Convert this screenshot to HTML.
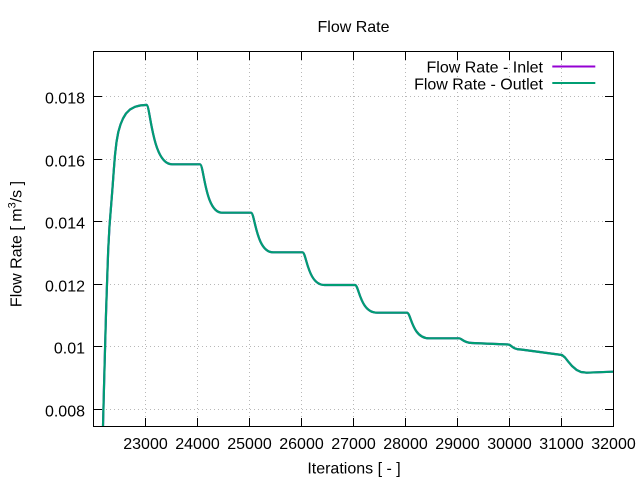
<!DOCTYPE html>
<html>
<head>
<meta charset="utf-8">
<style>
  html, body { margin: 0; padding: 0; background: #ffffff; }
  svg { display: block; }
  text { font-family: "Liberation Sans", Arial, sans-serif; fill: #000; }
</style>
</head>
<body>
<svg width="640" height="480" viewBox="0 0 640 480" xmlns="http://www.w3.org/2000/svg">
  <rect x="0" y="0" width="640" height="480" fill="#ffffff"/>
  <defs>
    <clipPath id="plot">
      <rect x="94" y="52" width="519" height="374"/>
    </clipPath>
  </defs>

  <!-- grid -->
  <g stroke="#b8b8b8" stroke-width="1" stroke-dasharray="1,3" fill="none">
    <line x1="145.5" y1="52" x2="145.5" y2="426"/>
    <line x1="197.5" y1="52" x2="197.5" y2="426"/>
    <line x1="249.5" y1="52" x2="249.5" y2="426"/>
    <line x1="301.5" y1="52" x2="301.5" y2="426"/>
    <line x1="353.5" y1="52" x2="353.5" y2="426"/>
    <line x1="405.5" y1="52" x2="405.5" y2="426"/>
    <line x1="457.5" y1="52" x2="457.5" y2="426"/>
    <line x1="509.5" y1="52" x2="509.5" y2="426"/>
    <line x1="561.5" y1="52" x2="561.5" y2="426"/>
    <line x1="94" y1="96.5" x2="613" y2="96.5"/>
    <line x1="94" y1="159.5" x2="613" y2="159.5"/>
    <line x1="94" y1="221.5" x2="613" y2="221.5"/>
    <line x1="94" y1="284.5" x2="613" y2="284.5"/>
    <line x1="94" y1="346.5" x2="613" y2="346.5"/>
    <line x1="94" y1="409.5" x2="613" y2="409.5"/>
  </g>

  <!-- ticks -->
  <g stroke="#000" stroke-width="1">
    <line x1="145.5" y1="426" x2="145.5" y2="418"/><line x1="145.5" y1="52" x2="145.5" y2="60"/>
    <line x1="197.5" y1="426" x2="197.5" y2="418"/><line x1="197.5" y1="52" x2="197.5" y2="60"/>
    <line x1="249.5" y1="426" x2="249.5" y2="418"/><line x1="249.5" y1="52" x2="249.5" y2="60"/>
    <line x1="301.5" y1="426" x2="301.5" y2="418"/><line x1="301.5" y1="52" x2="301.5" y2="60"/>
    <line x1="353.5" y1="426" x2="353.5" y2="418"/><line x1="353.5" y1="52" x2="353.5" y2="60"/>
    <line x1="405.5" y1="426" x2="405.5" y2="418"/><line x1="405.5" y1="52" x2="405.5" y2="60"/>
    <line x1="457.5" y1="426" x2="457.5" y2="418"/><line x1="457.5" y1="52" x2="457.5" y2="60"/>
    <line x1="509.5" y1="426" x2="509.5" y2="418"/><line x1="509.5" y1="52" x2="509.5" y2="60"/>
    <line x1="561.5" y1="426" x2="561.5" y2="418"/><line x1="561.5" y1="52" x2="561.5" y2="60"/>
    <line x1="94" y1="96.5" x2="102" y2="96.5"/><line x1="613" y1="96.5" x2="605" y2="96.5"/>
    <line x1="94" y1="159.5" x2="102" y2="159.5"/><line x1="613" y1="159.5" x2="605" y2="159.5"/>
    <line x1="94" y1="221.5" x2="102" y2="221.5"/><line x1="613" y1="221.5" x2="605" y2="221.5"/>
    <line x1="94" y1="284.5" x2="102" y2="284.5"/><line x1="613" y1="284.5" x2="605" y2="284.5"/>
    <line x1="94" y1="346.5" x2="102" y2="346.5"/><line x1="613" y1="346.5" x2="605" y2="346.5"/>
    <line x1="94" y1="409.5" x2="102" y2="409.5"/><line x1="613" y1="409.5" x2="605" y2="409.5"/>
  </g>

  <!-- series -->
  <g clip-path="url(#plot)" fill="none" stroke-linejoin="round" stroke-linecap="round">
    <path d="M102.3,432 L103,426 L104,387 L105,350 L106,314 L107,284 L108.2,250 L109.5,226 L111,207 L112.5,188 L113.8,170 L115,155 L116.5,142 L118.3,132 L120.5,124.5 L123,118.5 L126,113.5 L130,109.5 L135,106.8 L140,105.5 L146.5,104.9
      C150.5,104.9 152,164.3 172,164.3 L200,164.3
      C204,164.3 205,212.7 222,212.7 L251,212.7
      C255,212.7 256,252.3 273,252.3 L302.5,252.3
      C306.5,252.3 307.5,285 324.5,285 L355,285
      C359,285 360,312.7 377,312.7 L407,312.7
      C411,312.7 412,338.3 429,338.3 L459,338.3
      C462,338.3 463,342.7 472,343 L508.3,344.5
      C511,344.5 512,349.3 521,349.5 L562,355
      L565,357.5 L568.3,361.7 L572,366 L576.7,370 L581,372 L586.7,372.7 L613,371.7"
      stroke="#9400d3" stroke-width="2.2"/>
    <path d="M102.3,432 L103,426 L104,387 L105,350 L106,314 L107,284 L108.2,250 L109.5,226 L111,207 L112.5,188 L113.8,170 L115,155 L116.5,142 L118.3,132 L120.5,124.5 L123,118.5 L126,113.5 L130,109.5 L135,106.8 L140,105.5 L146.5,104.9
      C150.5,104.9 152,164.3 172,164.3 L200,164.3
      C204,164.3 205,212.7 222,212.7 L251,212.7
      C255,212.7 256,252.3 273,252.3 L302.5,252.3
      C306.5,252.3 307.5,285 324.5,285 L355,285
      C359,285 360,312.7 377,312.7 L407,312.7
      C411,312.7 412,338.3 429,338.3 L459,338.3
      C462,338.3 463,342.7 472,343 L508.3,344.5
      C511,344.5 512,349.3 521,349.5 L562,355
      L565,357.5 L568.3,361.7 L572,366 L576.7,370 L581,372 L586.7,372.7 L613,371.7"
      stroke="#009e73" stroke-width="2.2"/>
  </g>

  <!-- frame -->
  <rect x="93.5" y="51.5" width="520" height="375" fill="none" stroke="#000" stroke-width="1"/>

  <!-- y tick labels -->
  <g font-size="16" text-anchor="end">
    <text x="85" y="103.5">0.018</text>
    <text x="85" y="166.5">0.016</text>
    <text x="85" y="228.5">0.014</text>
    <text x="85" y="291.5">0.012</text>
    <text x="85" y="353.5">0.01</text>
    <text x="85" y="416.5">0.008</text>
  </g>

  <!-- x tick labels -->
  <g font-size="16" text-anchor="middle">
    <text x="145.5" y="449">23000</text>
    <text x="197.5" y="449">24000</text>
    <text x="249.5" y="449">25000</text>
    <text x="301.5" y="449">26000</text>
    <text x="353.5" y="449">27000</text>
    <text x="405.5" y="449">28000</text>
    <text x="457.5" y="449">29000</text>
    <text x="509.5" y="449">30000</text>
    <text x="561.5" y="449">31000</text>
    <text x="613.5" y="449">32000</text>
  </g>

  <!-- titles -->
  <text x="353.5" y="32" font-size="16" text-anchor="middle">Flow Rate</text>
  <text x="354" y="473.5" font-size="16" text-anchor="middle">Iterations [ - ]</text>
  <text transform="translate(21.5,244) rotate(-90)" font-size="16" text-anchor="middle">Flow Rate [ m<tspan font-size="11" dy="-6">3</tspan><tspan dy="6">/s ]</tspan></text>

  <!-- legend -->
  <g font-size="16" text-anchor="end">
    <text x="543" y="72.7">Flow Rate - Inlet</text>
    <text x="543" y="89.3">Flow Rate - Outlet</text>
  </g>
  <line x1="552.3" y1="66.5" x2="595.3" y2="66.5" stroke="#9400d3" stroke-width="2"/>
  <line x1="552.3" y1="83" x2="595.3" y2="83" stroke="#009e73" stroke-width="2"/>
</svg>
</body>
</html>
